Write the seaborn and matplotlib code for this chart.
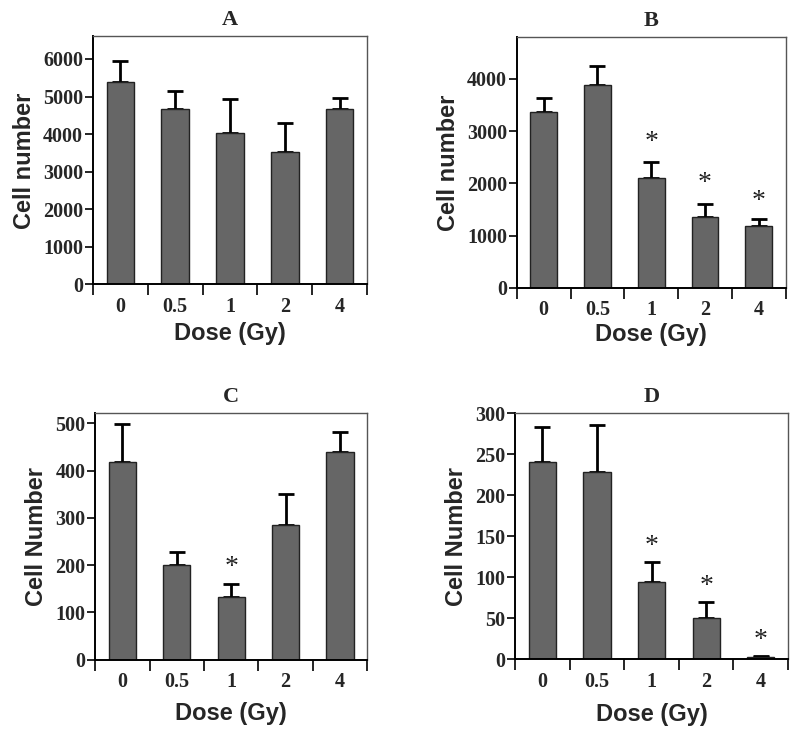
# dose response panels: cell number vs radiation dose

import numpy as np
import pandas as pd
import matplotlib
matplotlib.use('Agg')
import matplotlib.pyplot as plt
import seaborn as sns

# data
doses = ['0', '0.5', '1', '2', '4']

a_mean = [5390, 4660, 4035, 3525, 4660]
a_err = [560, 490, 900, 780, 300]

b_mean = [3365, 3893, 2103, 1363, 1185]
b_err = [280, 363, 306, 235, 140]
b_star = [None, None, 2780, 1990, 1650]

c_mean = [419, 200, 133, 285, 439]
c_err = [80, 28, 28, 66, 43]
c_star = [None, None, 195, None, None]

d_mean = [241, 228, 94, 50, 2]
d_err = [42, 58, 24, 20, 2]
d_star = [None, None, 138, 88, 23]

panels = [
    ('A', a_mean, a_err, None, 'Cell number', 6600, [0, 1000, 2000, 3000, 4000, 5000, 6000]),
    ('B', b_mean, b_err, b_star, 'Cell number', 4800, [0, 1000, 2000, 3000, 4000]),
    ('C', c_mean, c_err, c_star, 'Cell Number', 523, [0, 100, 200, 300, 400, 500]),
    ('D', d_mean, d_err, d_star, 'Cell Number', 300, [0, 50, 100, 150, 200, 250, 300]),
]

# axes boxes in figure fractions [left, bottom, width, height]
boxes = [
    [0.116, 0.610, 0.343, 0.340],
    [0.646, 0.605, 0.336, 0.344],
    [0.119, 0.095, 0.340, 0.339],
    [0.644, 0.096, 0.341, 0.337],
]
xlabel_pads = [4, 2, 7, 8]

sns.set_style('white')
serif = 'Liberation Serif'
sans = 'Liberation Sans'

fig = plt.figure(figsize=(8, 7.29), dpi=100)

for (letter, mean, err, star, ylab, ymax, yticks), box, xpad in zip(panels, boxes, xlabel_pads):
    ax = fig.add_axes(box)
    df = pd.DataFrame({'dose': doses, 'cells': mean})
    sns.barplot(x='dose', y='cells', data=df, color='#666666', width=0.5,
                edgecolor='#222222', linewidth=1.0, saturation=1, ax=ax, zorder=2)
    ax.errorbar(range(len(doses)), mean, yerr=[np.zeros(len(err)), err], fmt='none',
                ecolor='black', elinewidth=2, capsize=5.5, capthick=2, zorder=1)
    if star is not None:
        for i, s in enumerate(star):
            if s is not None:
                ax.text(i, s, '*', ha='center', va='center', fontsize=20,
                        family=serif, color='#222222')

    ax.set_xlim(-0.5, len(doses) - 0.5)
    ax.set_ylim(0, ymax)
    ax.set_yticks(yticks)
    ax.set_yticklabels([str(t) for t in yticks], family=serif, fontweight='bold', fontsize=14.5)

    # x tick marks sit between the categories, labels at centres
    ax.set_xticks(np.arange(-0.5, len(doses), 1.0))
    ax.set_xticklabels([])
    ax.set_xticks(range(len(doses)), minor=True)
    ax.set_xticklabels(doses, minor=True, family=serif, fontweight='bold', fontsize=14.5)
    ax.tick_params(axis='x', which='major', bottom=True, direction='out', length=8,
                   width=1.2, color='black')
    ax.tick_params(axis='x', which='minor', bottom=True, length=0, pad=9)
    ax.tick_params(axis='y', left=True, direction='out', length=6, width=1.2,
                   color='black', pad=1)

    ax.set_xlabel('Dose (Gy)', family=sans, fontweight='bold', fontsize=17, labelpad=xpad)
    ax.set_ylabel(ylab, family=sans, fontweight='bold', fontsize=17, labelpad=5)
    ax.set_title(letter, family=serif, fontweight='bold', fontsize=16, pad=8)

    for side in ['top', 'right']:
        ax.spines[side].set_color('#555555')
        ax.spines[side].set_linewidth(1.0)
    for side in ['bottom', 'left']:
        ax.spines[side].set_color('black')
        ax.spines[side].set_linewidth(1.4)

plt.savefig('out.png', dpi=100)
